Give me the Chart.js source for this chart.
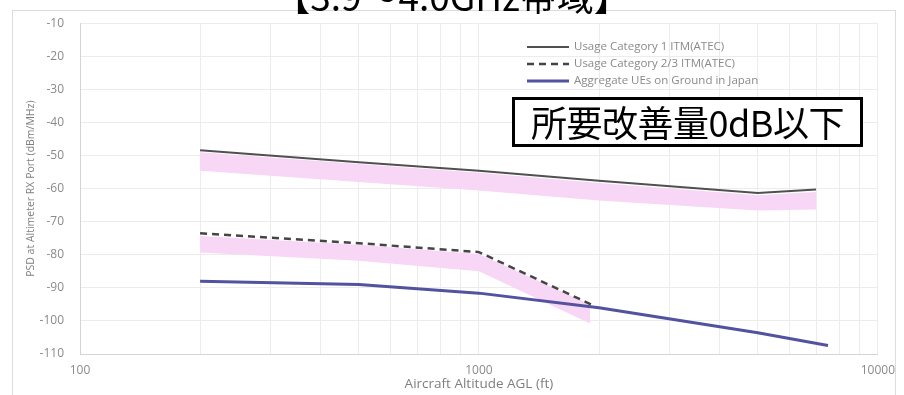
<!DOCTYPE html>
<html>
<head>
<meta charset="utf-8">
<script src="https://cdn.jsdelivr.net/npm/chart.js@4.4.1/dist/chart.umd.min.js"></script>
<style>
  body { margin: 0; background: #fff; width: 904px; height: 395px; overflow: hidden; position: relative; }
  #frame { position: absolute; left: 12px; top: 10px; width: 884px; height: 400px; border: 1px solid #dcdcdc; box-sizing: border-box; }
  #title { position: absolute; left: 0; width: 904px; top: -30px; text-align: center; font-family: "Noto Sans CJK JP"; font-size: 37px; line-height: 50px; color: #000; white-space: nowrap; }
  #note { position: absolute; left: 512px; top: 97px; width: 351px; height: 50px; border: 3px solid #000; box-sizing: border-box; background: #fff; font-family: "Noto Sans CJK JP"; font-size: 36px; line-height: 43px; text-align: center; color: #000; white-space: nowrap; letter-spacing: -0.5px; }
  #myChart { position: absolute; left: 0; top: 0; }
</style>
</head>
<body>
<div id="frame"></div>
<canvas id="myChart" width="904" height="395"></canvas>
<div id="title">【3.9～4.0GHz帯域】</div>
<div id="note">所要改善量0dB以下</div>
<script>
// altitude (ft) and PSD (dBm/MHz) for each curve
var cat1Alt = [200, 500, 1000, 2000, 5000, 7000];
var cat1Psd = [-48.4, -52, -54.6, -57.6, -61.3, -60.3];

var cat23Alt = [200, 500, 1000, 1950];
var cat23Psd = [-73.5, -76.5, -79.2, -95.5];

var ueAlt = [200, 500, 1000, 2000, 5000, 7500];
var uePsd = [-88, -89, -91.6, -96, -103.6, -107.4];

// shaded ranges under the ITM curves
var band1Alt = [200, 500, 1000, 2000, 5000, 7000];
var band1Top = [-49, -52.6, -55.2, -58.3, -62, -61];
var band1Bottom = [-54.6, -58, -60.6, -63.6, -66.6, -66.3];

var band2Alt = [200, 500, 1000, 1900];
var band2Top = [-74.3, -77, -79.8, -95];
var band2Bottom = [-79.3, -81.8, -85, -100.8];

// x-axis ticks (log grid), only decades get a label
var altTicks = [100, 200, 300, 400, 500, 600, 700, 800, 900,
  1000, 2000, 3000, 4000, 5000, 6000, 7000, 8000, 9000, 10000];
var altLabels = [100, 1000, 10000];

function pts(xs, ys) {
  return xs.map(function (x, i) { return { x: x, y: ys[i] }; });
}

var pink = '#f8d6f5';

// little legend drawn inside the plot, upper right
var innerLegend = {
  id: 'innerLegend',
  afterDraw: function (chart) {
    var ctx = chart.ctx;
    var x0 = 527, x1 = 569, y0 = 47, dy = 17;
    ctx.save();
    ctx.font = '11.5px "Open Sans"';
    ctx.textBaseline = 'middle';
    chart.data.datasets.filter(function (d) { return d.inLegend; }).forEach(function (d, i) {
      var y = y0 + i * dy;
      ctx.strokeStyle = d.borderColor;
      ctx.lineWidth = d.borderWidth;
      ctx.setLineDash(d.borderDash || []);
      ctx.beginPath();
      ctx.moveTo(x0, y);
      ctx.lineTo(x1, y);
      ctx.stroke();
      ctx.setLineDash([]);
      ctx.fillStyle = '#8a8a8a';
      ctx.fillText(d.label, x1 + 5, y);
    });
    ctx.restore();
  }
};

Chart.defaults.font.family = '"Open Sans"';

var ctx = document.getElementById('myChart');
var myChart = new Chart(ctx, {
  type: 'line',
  data: {
    datasets: [
      {
        label: 'Usage Category 1 ITM(ATEC)',
        inLegend: true,
        data: pts(cat1Alt, cat1Psd),
        borderColor: '#505050',
        borderWidth: 2,
        fill: false
      },
      {
        label: 'Usage Category 2/3 ITM(ATEC)',
        inLegend: true,
        data: pts(cat23Alt, cat23Psd),
        borderColor: '#454545',
        borderWidth: 2.5,
        borderDash: [7, 5],
        fill: false
      },
      {
        label: 'Aggregate UEs on Ground in Japan',
        inLegend: true,
        data: pts(ueAlt, uePsd),
        borderColor: '#52529f',
        borderWidth: 3,
        fill: false
      },
      {
        label: 'band1 top',
        data: pts(band1Alt, band1Top),
        borderWidth: 0,
        borderColor: 'rgba(0,0,0,0)',
        fill: false
      },
      {
        label: 'band1 bottom',
        data: pts(band1Alt, band1Bottom),
        borderWidth: 0,
        borderColor: 'rgba(0,0,0,0)',
        backgroundColor: pink,
        fill: '-1'
      },
      {
        label: 'band2 top',
        data: pts(band2Alt, band2Top),
        borderWidth: 0,
        borderColor: 'rgba(0,0,0,0)',
        fill: false
      },
      {
        label: 'band2 bottom',
        data: pts(band2Alt, band2Bottom),
        borderWidth: 0,
        borderColor: 'rgba(0,0,0,0)',
        backgroundColor: pink,
        fill: '-1'
      }
    ]
  },
  options: {
    responsive: false,
    animation: false,
    elements: { point: { radius: 0 }, line: { tension: 0 } },
    layout: { padding: { top: 22, right: 25, left: 0, bottom: 0 } },
    plugins: { legend: { display: false }, tooltip: { enabled: false } },
    scales: {
      x: {
        type: 'logarithmic',
        min: 100,
        max: 10000,
        afterBuildTicks: function (s) {
          s.ticks = altTicks.map(function (v) { return { value: v }; });
        },
        afterFit: function (s) { s.height = 41; },
        grid: { color: '#ececec', drawTicks: false },
        border: { color: '#d4d4d4' },
        ticks: {
          autoSkip: false,
          maxRotation: 0,
          padding: 9,
          color: '#8a8a8a',
          font: { size: 12 },
          callback: function (v) { return altLabels.indexOf(v) >= 0 ? String(v) : ''; }
        },
        title: {
          display: true,
          text: 'Aircraft Altitude AGL (ft)',
          color: '#7f7f7f',
          font: { size: 13.5 },
          padding: { top: 0, bottom: 3 }
        }
      },
      y: {
        min: -110,
        max: -10,
        afterFit: function (s) { s.width = 80; },
        grid: { color: '#ececec', drawTicks: false },
        border: { color: '#d4d4d4' },
        ticks: {
          stepSize: 10,
          padding: 16,
          color: '#8a8a8a',
          font: { size: 12 }
        },
        title: {
          display: true,
          text: 'PSD at Altimeter RX Port (dBm/MHz)',
          color: '#7f7f7f',
          font: { size: 10.5 },
          padding: { top: 25, bottom: 0 }
        }
      }
    }
  },
  plugins: [innerLegend]
});
</script>
</body>
</html>
